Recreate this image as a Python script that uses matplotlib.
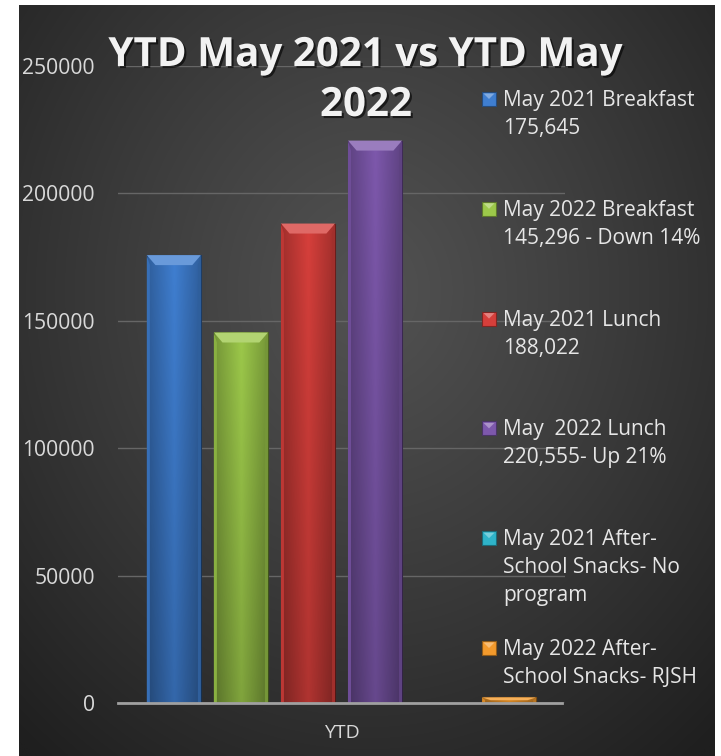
import numpy as np
import matplotlib
matplotlib.use("Agg")
import matplotlib.pyplot as plt
from matplotlib.patches import Rectangle, Polygon
import matplotlib.patheffects as pe
from matplotlib.colors import to_rgb

# ---- data ----
category = "YTD"
series_names = [
    "May 2021 Breakfast\n175,645",
    "May 2022 Breakfast\n145,296 - Down 14%",
    "May 2021 Lunch\n188,022",
    "May  2022 Lunch\n220,555- Up 21%",
    "May 2021 After-\nSchool Snacks- No\nprogram",
    "May 2022 After-\nSchool Snacks- RJSH",
]
values = [175645, 145296, 188022, 220555, 0, 2200]
colors = ["#3F7ED0", "#9CC84A", "#D63F3B", "#7D58AC", "#2FB3C9", "#F39A2C"]
yticks = [0, 50000, 100000, 150000, 200000, 250000]
title_lines = ["YTD May 2021 vs YTD May", "2022"]

W, H = 721, 756
FONT = ['Open Sans', 'DejaVu Sans']
plt.rcParams['font.family'] = FONT
fig = plt.figure(figsize=(W / 100, H / 100), dpi=100, facecolor="white")

def fx(px):
    return px / W

def fy(py):
    return 1 - py / H

# ---- background radial gradient ----
bg = fig.add_axes([fx(19), 0, fx(715) - fx(19), fy(5)])
bg.set_axis_off()
yy, xx = np.mgrid[0:1:400j, 0:1:400j]
r = np.sqrt(((xx - 0.5) / 0.75) ** 2 + ((yy - 0.38) / 0.8) ** 2)
r = np.clip(r, 0, 1)
c0 = np.array([0x52, 0x52, 0x52]) / 255
c1 = np.array([0x1f, 0x1f, 0x1f]) / 255
img = c0[None, None, :] * (1 - r[..., None] ** 1.1) + c1[None, None, :] * (r[..., None] ** 1.1)
bg.imshow(img, extent=[0, 1, 1, 0], aspect="auto", interpolation="bilinear")
bg.set_xlim(0, 1)
bg.set_ylim(1, 0)

# ---- main axes ----
ax = fig.add_axes([fx(118), fy(703), fx(565) - fx(118), fy(65.5) - fy(703)])
ax.set_facecolor("none")
n = len(values)
step = 0.15
width = 0.121
xs = [(i - (n - 1) / 2) * step for i in range(n)]
ax.set_xlim(-0.5, 0.5)
ax.set_ylim(0, 250000)

def shade(c, f):
    c = np.array(to_rgb(c))
    if f >= 0:
        return tuple(c + (1 - c) * f)
    return tuple(c * (1 + f))

bev_y = 250000 * 10 / 637  # bevel height in data units
bev_x = width * 0.16
for x, v, c in zip(xs, values, colors):
    if v <= 0:
        continue
    x0, x1 = x - width / 2, x + width / 2
    bar = ax.bar(x, v, width=width, color=c, edgecolor=shade(c, -0.35),
                 linewidth=0.8, zorder=3)[0]
    g = np.linspace(0, 1, 64)
    hx = 1 - np.abs(g - 0.5) * 2
    grad = np.zeros((64, 64, 4))
    vy = np.linspace(0, 1, 64)[:, None]
    grad[..., 3] = 0.25 * (1 - hx[None, :]) + 0.18 * vy
    im = ax.imshow(grad, extent=[x0, x1, 0, v], aspect="auto", origin="upper",
                   zorder=4, interpolation="bilinear")
    im.set_clip_path(bar)
    bh = min(bev_y, v * 0.5)
    top = Polygon([[x0, v], [x1, v], [x1 - bev_x, v - bh], [x0 + bev_x, v - bh]],
                  closed=True, facecolor=shade(c, 0.22), edgecolor="none", zorder=5)
    ax.add_patch(top)
    left = Polygon([[x0, v], [x0 + bev_x * 0.35, v - bh], [x0 + bev_x * 0.35, 0], [x0, 0]],
                   closed=True, facecolor=shade(c, -0.12), edgecolor="none", zorder=5)
    right = Polygon([[x1, v], [x1 - bev_x * 0.35, v - bh], [x1 - bev_x * 0.35, 0], [x1, 0]],
                    closed=True, facecolor=shade(c, -0.25), edgecolor="none", zorder=5)
    ax.add_patch(left)
    ax.add_patch(right)

ax.set_yticks(yticks)
ax.set_yticklabels([str(t) for t in yticks], fontsize=15.2, color="#D9D9D9")
ax.set_xticks([0])
ax.set_xticklabels([category], fontsize=14, color="#D9D9D9")
ax.tick_params(axis="y", length=0, pad=16.5)
ax.tick_params(axis="x", length=0, pad=15)
ax.grid(axis="y", color="#666666", linewidth=1.0, zorder=1)
for s in ["top", "right", "left"]:
    ax.spines[s].set_visible(False)
ax.spines["bottom"].set_color("#A0A0A0")
ax.spines["bottom"].set_linewidth(2)
ax.spines["bottom"].set_zorder(6)
ax.spines["bottom"].set_bounds(-0.5, 0.493)

# ---- title ----
shadow = [pe.withSimplePatchShadow(offset=(1.5, -1.5), shadow_rgbFace="black", alpha=0.6)]
fig.text(fx(365.5), fy(66), title_lines[0], ha="center", va="baseline", fontsize=29,
         fontweight="bold", color="#F2F2F2", path_effects=shadow)
fig.text(fx(366), fy(116), title_lines[1], ha="center", va="baseline", fontsize=29,
         fontweight="bold", color="#F2F2F2", path_effects=shadow)

# ---- legend ----
base0 = 106
entry_dy = 109.8
line_dy = 28
sq = 14
for i, (name, c) in enumerate(zip(series_names, colors)):
    b = base0 + i * entry_dy
    fig.patches.append(Rectangle((fx(482), fy(b)), fx(sq), sq / H,
                                 transform=fig.transFigure, facecolor=c,
                                 edgecolor=shade(c, -0.4), linewidth=0.8))
    fig.patches.append(Polygon([[fx(483.5), fy(b - sq + 1.5)], [fx(494.5), fy(b - sq + 1.5)],
                                [fx(489), fy(b - sq / 2)]], closed=True,
                               transform=fig.transFigure, facecolor=shade(c, 0.35),
                               edgecolor="none"))
    for j, line in enumerate(name.split("\n")):
        fig.text(fx(503), fy(b + j * line_dy), line, ha="left", va="baseline",
                 fontsize=15, color="#E6E6E6")

fig.savefig("out.png", dpi=100, facecolor=fig.get_facecolor())
